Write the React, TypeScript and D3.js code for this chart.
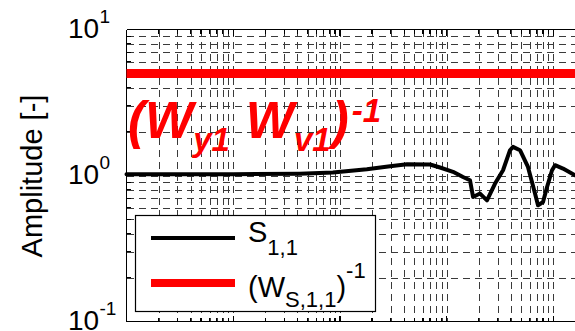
import React from 'react';
import * as d3 from 'd3';

// Frequency axis samples and the measured sensitivity magnitude |S_1,1|
const freq = [1, 10, 42, 86, 179, 295, 426, 700, 868, 1148, 1425, 1657, 1770, 2057, 2390, 2844, 3380, 3930, 4190, 4875, 5790, 6740, 7190, 8010, 8740, 9730, 10380, 12330, 15970, 20000];
const s11 = [1.02, 1.02, 1.03, 1.047, 1.104, 1.157, 1.194, 1.19, 1.134, 1.06, 0.977, 0.928, 0.713, 0.752, 0.676, 0.881, 1.086, 1.49, 1.57, 1.49, 1.145, 0.752, 0.625, 0.658, 0.834, 1.086, 1.176, 1.116, 1.004, 0.95];
// Inverse weighting filter bound (constant)
const weightInv = 5;
const yTickExps = [1, 0, -1];
const xDecades = [0, 1, 2, 3, 4];
const minorMults = [1, 2, 3, 4, 5, 6, 7, 8, 9];

const W = 575;
const H = 331;
const plotLeft = 126.5;
const plotTop = 29.5;
const plotBottom = 321.5;
const decadeWidth = 106.7;
const FONT = 'Liberation Sans, Arial, Helvetica, sans-serif';

export default function App() {
  const x = d3.scaleLog().domain([1, 1e5]).range([plotLeft, plotLeft + 5 * decadeWidth]);
  const y = d3.scaleLog().domain([0.1, 10]).range([plotBottom, plotTop]);

  const xGrid: number[] = [];
  xDecades.forEach((d) => minorMults.forEach((m) => {
    const v = m * Math.pow(10, d);
    const px = x(v);
    if (px > plotLeft + 1 && px < W) xGrid.push(v);
  }));
  const yGrid: number[] = [];
  [-1, 0].forEach((d) => minorMults.forEach((m) => {
    const v = m * Math.pow(10, d);
    if (v > 0.1 && v < 10) yGrid.push(v);
  }));

  const pts: [number, number][] = freq.map((f, i) => [f, s11[i]]);
  const line = d3.line<[number, number]>().x((d) => x(d[0])).y((d) => y(d[1]));
  const rightEdge = W + 10;

  const gridStyle = { stroke: '#3a3a3a', strokeWidth: 1, strokeDasharray: '7 5', shapeRendering: 'crispEdges' as const };

  return (
    <svg width={W} height={H} style={{ position: 'absolute', left: 0, top: 0, display: 'block', background: '#fff' }} fontFamily={FONT}>
      <rect x={0} y={0} width={W} height={H} fill="#fff" />
      {/* grid */}
      <g>
        {xGrid.map((v) => (
          <line key={'gx' + v} x1={Math.round(x(v)) + 0.5} x2={Math.round(x(v)) + 0.5} y1={plotTop} y2={plotBottom} style={gridStyle} />
        ))}
        {yGrid.map((v) => (
          <line key={'gy' + v} x1={plotLeft} x2={rightEdge} y1={Math.round(y(v)) + 0.5} y2={Math.round(y(v)) + 0.5} style={gridStyle} />
        ))}
      </g>
      {/* axis box and inner ticks */}
      <g stroke="#000" strokeWidth={1.2} shapeRendering="crispEdges">
        <line x1={plotLeft} x2={rightEdge} y1={plotTop} y2={plotTop} />
        <line x1={plotLeft} x2={rightEdge} y1={plotBottom} y2={plotBottom} />
        <line x1={plotLeft} x2={plotLeft} y1={plotTop} y2={plotBottom} />
        {yGrid.map((v) => (
          <line key={'ty' + v} x1={plotLeft} x2={plotLeft + (Math.abs(Math.log10(v) % 1) < 1e-6 ? 6 : 4)} y1={y(v)} y2={y(v)} />
        ))}
        {xGrid.map((v) => {
          const major = Math.abs(Math.log10(v) % 1) < 1e-6;
          const len = major ? 6 : 4;
          return (
            <g key={'tx' + v}>
              <line x1={x(v)} x2={x(v)} y1={plotBottom} y2={plotBottom - len} />
              <line x1={x(v)} x2={x(v)} y1={plotTop} y2={plotTop + len} />
            </g>
          );
        })}
      </g>
      {/* weighting bound */}
      <line x1={plotLeft} x2={rightEdge} y1={y(weightInv)} y2={y(weightInv)} stroke="#ff0000" strokeWidth={9} />
      {/* sensitivity curve */}
      <path d={line(pts) || ''} fill="none" stroke="#000" strokeWidth={4} strokeLinejoin="round" strokeLinecap="round" />
      {/* y tick labels */}
      {yTickExps.map((e) => {
        const gy = y(Math.pow(10, e));
        return (
          <g key={'yl' + e} fill="#000">
            <text x={68} y={gy + 8.5} fontSize={28}>10</text>
            <text x={99.5} y={gy - 6.5} fontSize={19}>{String(e)}</text>
          </g>
        );
      })}
      {/* y axis title */}
      <text transform="translate(42,176) rotate(-90)" textAnchor="middle" fontSize={29} fill="#000">Amplitude [-]</text>
      {/* annotation */}
      <text x={128} y={138} fontSize={51} fontWeight="bold" fontStyle="italic" fill="#ff0000">
        (W
        <tspan fontSize={33} y={151}>y1</tspan>
        <tspan y={138} dx={16}>W</tspan>
        <tspan fontSize={33} y={151}>v1</tspan>
        <tspan y={138} dx={1}>)</tspan>
        <tspan fontSize={33} y={122} dx={3}>-1</tspan>
      </text>
      {/* legend */}
      <g>
        <rect x={135.5} y={215.5} width={240} height={96} fill="#fff" stroke="#000" strokeWidth={1.2} />
        <line x1={151} x2={235} y1={238} y2={238} stroke="#000" strokeWidth={4} />
        <line x1={151} x2={235} y1={283} y2={283} stroke="#ff0000" strokeWidth={8} />
        <text x={248} y={242} fontSize={29} fill="#000">
          S<tspan fontSize={22} y={255}>1,1</tspan>
        </text>
        <text x={248} y={297} fontSize={29} fill="#000">
          (W<tspan fontSize={22} y={307}>S,1,1</tspan>
          <tspan y={297}>)</tspan>
          <tspan fontSize={22} y={278}>-1</tspan>
        </text>
      </g>
    </svg>
  );
}
